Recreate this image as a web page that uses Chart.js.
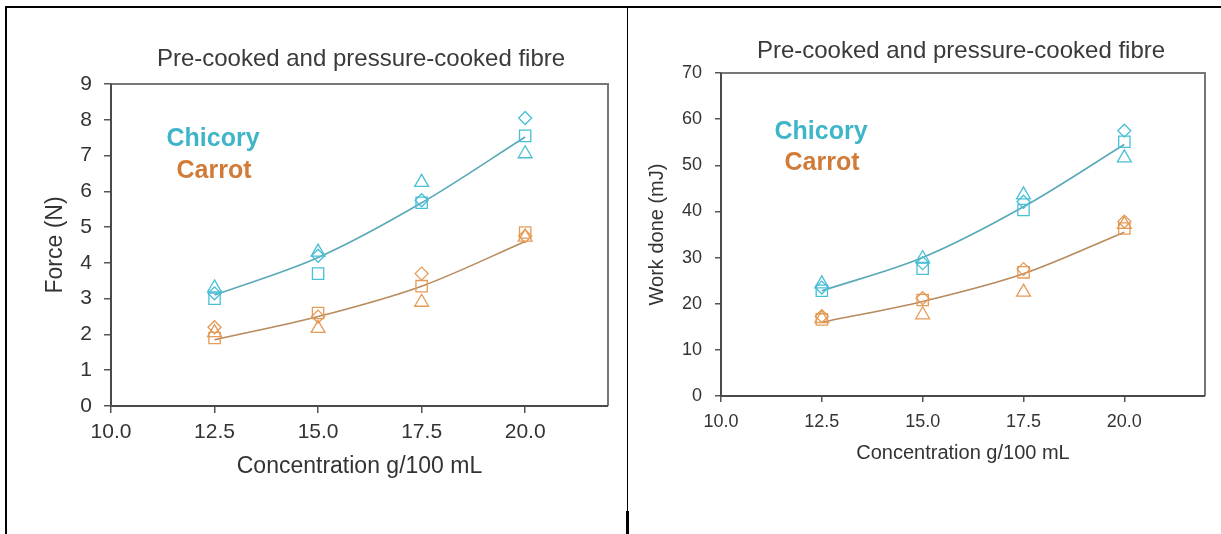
<!DOCTYPE html>
<html>
<head>
<meta charset="utf-8">
<script src="https://cdn.jsdelivr.net/npm/chart.js@4.4.1/dist/chart.umd.min.js"></script>
<style>
  html, body { margin:0; padding:0; background:#fff; overflow:hidden; }
  body { width:1221px; height:534px; position:relative; font-family:"Liberation Sans", Arial, sans-serif; }
  .line { position:absolute; background:#000; }
  canvas { position:absolute; top:0; }
  .ttl { position:absolute; width:600px; text-align:center; font-size:24px; line-height:28px; color:#3a3a3a; white-space:nowrap; }
  .lab { position:absolute; width:200px; text-align:center; font-weight:bold; font-size:25px; line-height:30px; white-space:nowrap; }
</style>
</head>
<body>
<div class="line" style="left:5px;top:6px;width:1216px;height:2px;"></div>
<div class="line" style="left:5px;top:6px;width:2px;height:528px;"></div>
<div class="line" style="left:627px;top:6px;width:1px;height:505px;"></div>
<div class="line" style="left:626px;top:511px;width:3px;height:23px;"></div>

<canvas id="c1" width="620" height="534" style="left:0px;"></canvas>
<canvas id="c2" width="601" height="534" style="left:620px;"></canvas>

<div class="ttl" id="t1" style="left:61px;top:44px;"></div>
<div class="ttl" id="t2" style="left:661px;top:36px;"></div>
<div class="lab" id="l1a" style="left:113px;top:122px;color:#3fb5c9;"></div>
<div class="lab" id="l1b" style="left:114px;top:154px;color:#d07b38;"></div>
<div class="lab" id="l2a" style="left:721px;top:115px;color:#3fb5c9;"></div>
<div class="lab" id="l2b" style="left:722px;top:146px;color:#d07b38;"></div>

<script>
// ---- data ----
const chartTitle = 'Pre-cooked and pressure-cooked fibre';
const seriesNames = ['Chicory', 'Carrot'];
const xAxisTitle = 'Concentration g/100 mL';
const forceAxisTitle = 'Force (N)';
const workAxisTitle = 'Work done (mJ)';

const concentrations = [12.5, 15, 17.5, 20];
const xTickValues = [10, 12.5, 15, 17.5, 20];
const xTickLabels = ['10.0', '12.5', '15.0', '17.5', '20.0'];
const forceTickValues = [0, 1, 2, 3, 4, 5, 6, 7, 8, 9];
const forceTickLabels = ['0', '1', '2', '3', '4', '5', '6', '7', '8', '9'];
const workTickValues = [0, 10, 20, 30, 40, 50, 60, 70];
const workTickLabels = ['0', '10', '20', '30', '40', '50', '60', '70'];

// Force (N)
const chicoryForceDiamond  = [3.15, 4.2, 5.75, 8.05];
const chicoryForceSquare   = [3.0, 3.7, 5.68, 7.55];
const chicoryForceTriangle = [3.3, 4.3, 6.25, 7.05];
const chicoryForceFit      = [3.1, 4.15, 5.68, 7.52];
const carrotForceDiamond   = [2.2, 2.5, 3.7, 4.75];
const carrotForceSquare    = [1.9, 2.6, 3.35, 4.85];
const carrotForceTriangle  = [2.05, 2.17, 2.9, 4.72];
const carrotForceFit       = [1.85, 2.5, 3.35, 4.6];

// Work done (mJ)
const chicoryWorkDiamond  = [23.5, 28.8, 42.1, 57.5];
const chicoryWorkSquare   = [22.8, 27.6, 40.3, 55.1];
const chicoryWorkTriangle = [24.3, 29.8, 43.6, 51.6];
const chicoryWorkFit      = [22.8, 30.0, 41.0, 54.5];
const carrotWorkDiamond   = [17.3, 21.2, 27.5, 37.8];
const carrotWorkSquare    = [16.6, 20.8, 26.8, 36.3];
const carrotWorkTriangle  = [16.8, 17.6, 22.5, 37.2];
const carrotWorkFit       = [16.0, 20.5, 26.5, 35.5];

// ---- styling ----
const FONT = '"Liberation Sans", Arial, sans-serif';
const CYAN = '#49bfd6', ORANGE = '#e59a55';
const CYAN_LINE = '#5aa9b8', ORANGE_LINE = '#b88a5c';
const TXT = '#333';

document.getElementById('t1').textContent = chartTitle;
document.getElementById('t2').textContent = chartTitle;
document.getElementById('l1a').textContent = seriesNames[0];
document.getElementById('l1b').textContent = seriesNames[1];
document.getElementById('l2a').textContent = seriesNames[0];
document.getElementById('l2b').textContent = seriesNames[1];

const pts = ys => concentrations.map((x, i) => ({ x: x, y: ys[i] }));

function fitDs(label, ys, color) {
  return { label, data: pts(ys), showLine: true, borderColor: color, borderWidth: 1.6,
           pointRadius: 0, cubicInterpolationMode: 'monotone', fill: false, order: 10 };
}
function markDs(label, ys, color, style, r) {
  return { label, data: pts(ys), showLine: false, pointStyle: style, pointRadius: r,
           borderColor: color, backgroundColor: 'rgba(255,255,255,0)', pointBorderWidth: 1.3, order: 1 };
}

const framePlugin = {
  id: 'frame',
  beforeDatasetsDraw(chart) {
    const a = chart.chartArea, c = chart.ctx;
    c.save();
    c.lineWidth = 2;
    c.strokeStyle = '#777';
    c.beginPath();
    c.moveTo(a.left, a.top); c.lineTo(a.right, a.top); c.lineTo(a.right, a.bottom);
    c.stroke();
    c.strokeStyle = '#4a4a4a';
    c.beginPath();
    c.moveTo(a.left, a.top); c.lineTo(a.left, a.bottom); c.lineTo(a.right, a.bottom);
    c.stroke();
    c.restore();
  }
};

function makeChart(id, cfg) {
  return new Chart(document.getElementById(id), {
    type: 'scatter',
    data: { datasets: cfg.datasets },
    plugins: [framePlugin],
    options: {
      responsive: false, animation: false, devicePixelRatio: 1,
      layout: { padding: cfg.padding },
      plugins: { legend: { display: false }, tooltip: { enabled: false }, title: { display: false } },
      scales: {
        x: {
          type: 'linear', min: 10, max: 22,
          afterBuildTicks: s => { s.ticks = xTickValues.map(v => ({ value: v })); },
          afterFit: s => { s.height = 80; },
          ticks: { padding: cfg.xPad, color: TXT, font: { family: FONT, size: cfg.tickSize },
                   callback: (v) => xTickLabels[xTickValues.indexOf(v)], maxRotation: 0, autoSkip: false },
          grid: { display: true, drawOnChartArea: false, drawTicks: true, tickLength: cfg.tickLen, color: '#555', lineWidth: 1.5 },
          border: { display: false },
          title: { display: true, text: xAxisTitle, color: TXT, font: { family: FONT, size: cfg.axTitleSize },
                   padding: { top: 0, bottom: cfg.xTitlePad } }
        },
        y: {
          type: 'linear', min: cfg.yMin, max: cfg.yMax,
          afterBuildTicks: s => { s.ticks = cfg.yTicks.map(v => ({ value: v })); },
          afterFit: s => { s.width = cfg.yWidth; },
          ticks: { padding: cfg.yPad, color: TXT, font: { family: FONT, size: cfg.tickSize },
                   callback: (v) => cfg.yLabels[cfg.yTicks.indexOf(v)], autoSkip: false },
          grid: { display: true, drawOnChartArea: false, drawTicks: true, tickLength: cfg.tickLen, color: '#555', lineWidth: 1.5 },
          border: { display: false },
          title: { display: true, text: cfg.yTitle, color: TXT, font: { family: FONT, size: cfg.axTitleSize },
                   padding: { top: cfg.yTitlePad, bottom: 0 } }
        }
      }
    }
  });
}

makeChart('c1', {
  datasets: [
    fitDs('Chicory fit', chicoryForceFit, CYAN_LINE),
    fitDs('Carrot fit', carrotForceFit, ORANGE_LINE),
    markDs('Chicory A', chicoryForceDiamond, CYAN, 'rectRot', 6.5),
    markDs('Chicory B', chicoryForceSquare, CYAN, 'rect', 8),
    markDs('Chicory C', chicoryForceTriangle, CYAN, 'triangle', 8),
    markDs('Carrot A', carrotForceDiamond, ORANGE, 'rectRot', 6.5),
    markDs('Carrot B', carrotForceSquare, ORANGE, 'rect', 8),
    markDs('Carrot C', carrotForceTriangle, ORANGE, 'triangle', 8)
  ],
  padding: { left: 0, right: 12, top: 84, bottom: 48 },
  tickSize: 21, axTitleSize: 23, tickLen: 7, xPad: 7, yPad: 12,
  xTitlePad: 6, yTitlePad: 42, yWidth: 111,
  yMin: 0, yMax: 9, yTicks: forceTickValues, yLabels: forceTickLabels, yTitle: forceAxisTitle
});

makeChart('c2', {
  datasets: [
    fitDs('Chicory fit', chicoryWorkFit, CYAN_LINE),
    fitDs('Carrot fit', carrotWorkFit, ORANGE_LINE),
    markDs('Chicory A', chicoryWorkDiamond, CYAN, 'rectRot', 6.5),
    markDs('Chicory B', chicoryWorkSquare, CYAN, 'rect', 8),
    markDs('Chicory C', chicoryWorkTriangle, CYAN, 'triangle', 8),
    markDs('Carrot A', carrotWorkDiamond, ORANGE, 'rectRot', 6.5),
    markDs('Carrot B', carrotWorkSquare, ORANGE, 'rect', 8),
    markDs('Carrot C', carrotWorkTriangle, ORANGE, 'triangle', 8)
  ],
  padding: { left: 0, right: 16, top: 73, bottom: 58 },
  tickSize: 18, axTitleSize: 20, tickLen: 6, xPad: 9, yPad: 13,
  xTitlePad: 11, yTitlePad: 25, yWidth: 101,
  yMin: 0, yMax: 70, yTicks: workTickValues, yLabels: workTickLabels, yTitle: workAxisTitle
});
</script>
</body>
</html>
